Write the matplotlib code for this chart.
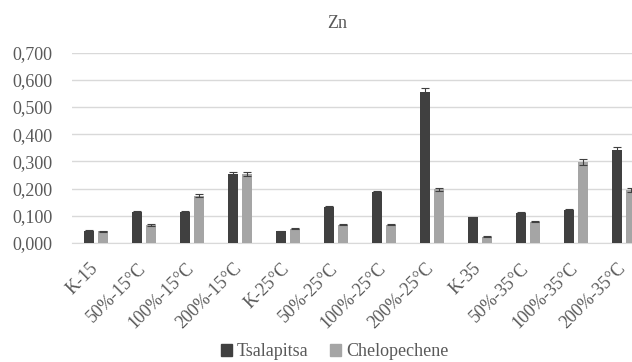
import numpy as np
import matplotlib
matplotlib.use('Agg')
import matplotlib.pyplot as plt
from matplotlib.ticker import FuncFormatter
from matplotlib.patches import Patch
import matplotlib.transforms as mtransforms

categories = ['K-15', '50%-15°C', '100%-15°C', '200%-15°C',
              'K-25°C', '50%-25°C', '100%-25°C', '200%-25°C',
              'K-35', '50%-35°C', '100%-35°C', '200%-35°C']
tsalapitsa = [0.046, 0.114, 0.114, 0.253, 0.043, 0.133, 0.187, 0.554, 0.094, 0.112, 0.121, 0.341]
tsalapitsa_err = [0.002, 0.004, 0.002, 0.007, 0.002, 0.004, 0.006, 0.017, 0.002, 0.002, 0.004, 0.013]
chelopechene = [0.044, 0.067, 0.174, 0.253, 0.053, 0.067, 0.067, 0.197, 0.023, 0.079, 0.297, 0.195]
chelopechene_err = [0.002, 0.003, 0.005, 0.008, 0.002, 0.002, 0.002, 0.006, 0.002, 0.003, 0.011, 0.006]

plt.rcParams['font.family'] = ['Liberation Serif', 'DejaVu Serif']
txt = '#595959'

fig = plt.figure(figsize=(6.32, 3.62), dpi=100)
ax = fig.add_axes([0.114, 0.3287, 0.911, 0.5257])

x = np.arange(len(categories))
w = 0.21
err_kw = dict(ecolor='#404040', elinewidth=0.8, capsize=3, capthick=0.8)
ax.bar(x - 0.145, tsalapitsa, w, yerr=tsalapitsa_err, color='#404040', error_kw=err_kw, zorder=3)
ax.bar(x + 0.145, chelopechene, w, yerr=chelopechene_err, color='#a5a5a5', error_kw=err_kw, zorder=3)

ax.set_xlim(-0.5, len(categories) - 0.5)
ax.set_ylim(0, 0.7)
ax.set_yticks(np.arange(0, 0.71, 0.1))
ax.yaxis.set_major_formatter(FuncFormatter(lambda v, p: ('%.3f' % v).replace('.', ',')))
ax.grid(axis='y', color='#d9d9d9', linewidth=1, zorder=0)
for s in ['top', 'right', 'left']:
    ax.spines[s].set_visible(False)
ax.spines['bottom'].set_color('#d9d9d9')
ax.tick_params(axis='both', length=0, labelsize=13, colors=txt)
ax.tick_params(axis='y', pad=14)

ax.set_xticks(x)
ax.set_xticklabels(categories, rotation=45, ha='right', rotation_mode='anchor')
# shift rotated labels so the last one stays inside the picture
offset = mtransforms.ScaledTranslation(-0.07, -0.12, fig.dpi_scale_trans)
for lab in ax.get_xticklabels():
    lab.set_transform(lab.get_transform() + offset)

fig.text(0.533, 0.935, 'Zn', ha='center', va='center', fontsize=13, color=txt)

handles = [Patch(color='#404040', label='Tsalapitsa'), Patch(color='#a5a5a5', label='Chelopechene')]
fig.legend(handles=handles, loc='center', bbox_to_anchor=(0.53, 0.028), ncol=2, frameon=False,
           prop={'family': 'Liberation Serif', 'size': 13}, handlelength=0.6, handleheight=0.6,
           handletextpad=0.3, columnspacing=1.2, labelcolor=txt)

fig.savefig('out.png', dpi=100)
